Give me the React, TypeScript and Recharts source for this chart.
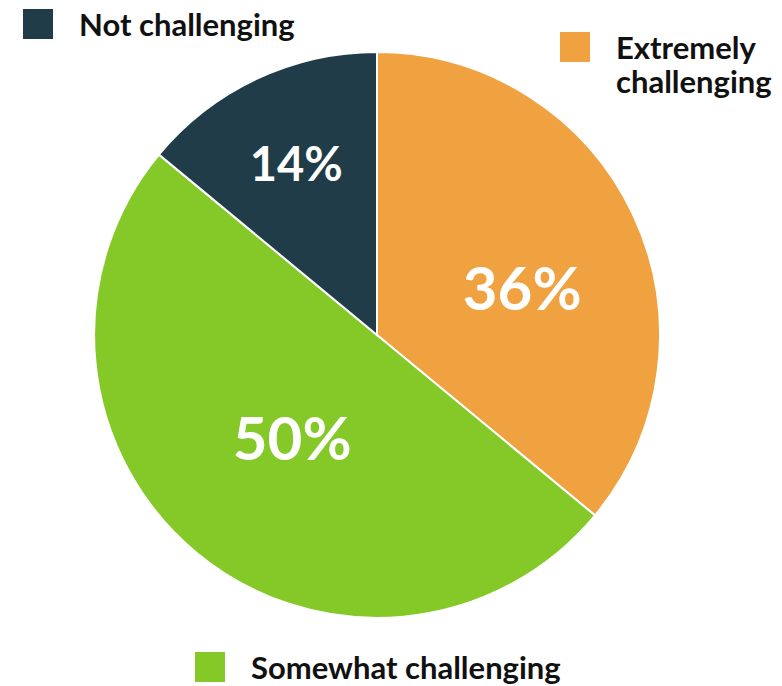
import { PieChart, Pie, Cell } from "recharts";

const categories = ["Extremely challenging", "Somewhat challenging", "Not challenging"];
const shares = [36, 50, 14];

const COLORS = ["#f0a241", "#84c928", "#1f3c48"];
const LABEL_SIZE = [60, 60, 47];
const LABEL_RADIUS = [0.54, 0.47, 0.67];
const LABEL_ANGLE_SHIFT = [-7, 0, 0];

const data = categories.map((name, i) => ({ name, value: shares[i] }));

const FONT = "Lato, 'Noto Sans', sans-serif";

const RADIAN = Math.PI / 180;

function renderLabel(props: any) {
  const { cx, cy, midAngle, outerRadius, index, value } = props;
  const r = outerRadius * LABEL_RADIUS[index];
  const a = (midAngle + LABEL_ANGLE_SHIFT[index]) * RADIAN;
  const x = cx + r * Math.cos(a);
  const y = cy - r * Math.sin(a);
  return (
    <text
      x={x}
      y={y}
      fill="#fff"
      textAnchor="middle"
      dominantBaseline="central"
      fontFamily={FONT}
      fontWeight={700}
      fontSize={LABEL_SIZE[index]}
    >
      {value}%
    </text>
  );
}

function LegendItem({
  color,
  label,
  left,
  top,
  width,
}: {
  color: string;
  label: string;
  left: number;
  top: number;
  width?: number;
}) {
  return (
    <div style={{ position: "absolute", left, top, display: "flex", alignItems: "flex-start" }}>
      <div style={{ width: 30, height: 30, background: color, marginTop: 1, flexShrink: 0 }} />
      <div
        style={{
          marginLeft: 26,
          width,
          fontFamily: FONT,
          fontWeight: 700,
          fontSize: 31,
          lineHeight: "34px",
          color: "#111",
          marginTop: -1,
          whiteSpace: width ? "normal" : "nowrap",
        }}
      >
        {label}
      </div>
    </div>
  );
}

export default function App() {
  return (
    <div style={{ position: "absolute", left: 0, top: 0, width: 782, height: 686, background: "#fff" }}>
      <PieChart width={782} height={686} margin={{ top: 0, right: 0, bottom: 0, left: 0 }}>
        <Pie
          data={data}
          dataKey="value"
          cx={377}
          cy={335}
          outerRadius={283}
          startAngle={90}
          endAngle={-270}
          stroke="#fff"
          strokeWidth={2}
          label={renderLabel}
          labelLine={false}
          isAnimationActive={false}
        >
          {data.map((_, i) => (
            <Cell key={i} fill={COLORS[i]} />
          ))}
        </Pie>
      </PieChart>
      <LegendItem color={COLORS[2]} label={categories[2]} left={23} top={8} />
      <LegendItem color={COLORS[0]} label={categories[0]} left={560} top={31} width={166} />
      <LegendItem color={COLORS[1]} label={categories[1]} left={195} top={651} />
    </div>
  );
}
